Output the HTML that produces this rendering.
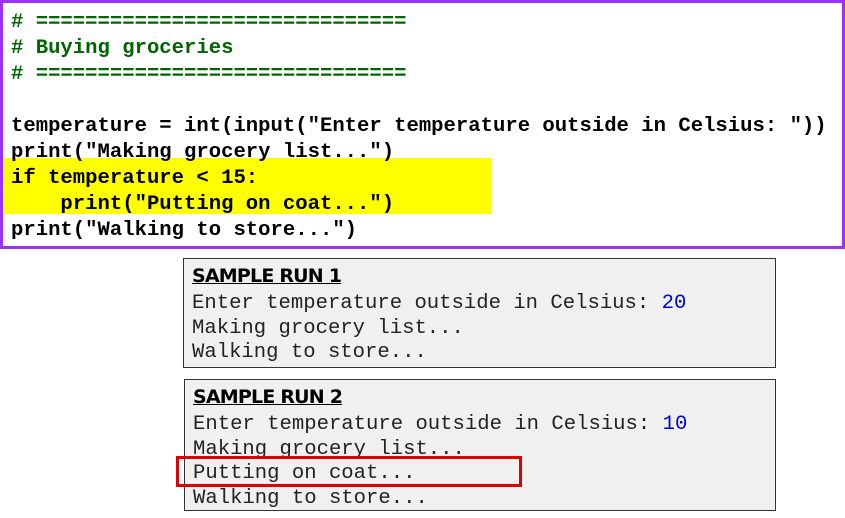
<!DOCTYPE html>
<html><head><style>
body{margin:0;width:845px;height:518px;background:#fff;position:relative;overflow:hidden}
.c{position:absolute;font-family:"Courier New","Liberation Mono",Cousine,monospace;font-size:20.6px;font-weight:bold;white-space:pre;line-height:26px;color:#000}
.g{color:#006400}
.s{position:absolute;font-family:"Courier New","Liberation Mono",Cousine,monospace;font-size:20.6px;white-space:pre;line-height:24px;color:#222}
.t{position:absolute;font-family:"DejaVu Sans","Liberation Sans",sans-serif;font-weight:bold;font-size:19px;text-decoration:underline;letter-spacing:-0.8px;color:#000}
.b{color:#0000e0}
</style></head><body>
<div style="position:absolute;left:0;top:0;width:839px;height:243px;border:3px solid #9b30ff"></div>
<div style="position:absolute;left:3px;top:158px;width:489px;height:56px;background:#ffff00"></div>
<div class="c g" style="left:11px;top:10px"># ==============================</div>
<div class="c g" style="left:11px;top:36px"># Buying groceries</div>
<div class="c g" style="left:11px;top:62px"># ==============================</div>
<div class="c" style="left:11px;top:114px">temperature = int(input("Enter temperature outside in Celsius: "))</div>
<div class="c" style="left:11px;top:140px">print("Making grocery list...")</div>
<div class="c" style="left:11px;top:166px">if temperature &lt; 15:</div>
<div class="c" style="left:11px;top:192px">    print("Putting on coat...")</div>
<div class="c" style="left:11px;top:218px">print("Walking to store...")</div>

<div style="position:absolute;left:183px;top:258px;width:591px;height:108px;border:1px solid #333;background:#f0f0f0"></div>
<div class="t" style="left:192px;top:265px">SAMPLE RUN 1</div>
<div class="s" style="left:192px;top:292px">Enter temperature outside in Celsius: <span class="b">20</span></div>
<div class="s" style="left:192px;top:317px">Making grocery list...</div>
<div class="s" style="left:192px;top:341px">Walking to store...</div>

<div style="position:absolute;left:184px;top:379px;width:590px;height:130px;border:1px solid #333;background:#f0f0f0"></div>
<div class="t" style="left:193px;top:386px">SAMPLE RUN 2</div>
<div class="s" style="left:193px;top:413px">Enter temperature outside in Celsius: <span class="b">10</span></div>
<div class="s" style="left:193px;top:438px">Making grocery list...</div>
<div class="s" style="left:193px;top:462px">Putting on coat...</div>
<div class="s" style="left:193px;top:487px">Walking to store...</div>
<div style="position:absolute;left:176px;top:456px;width:340px;height:25px;border:3px solid #e00000"></div>
</body></html>
